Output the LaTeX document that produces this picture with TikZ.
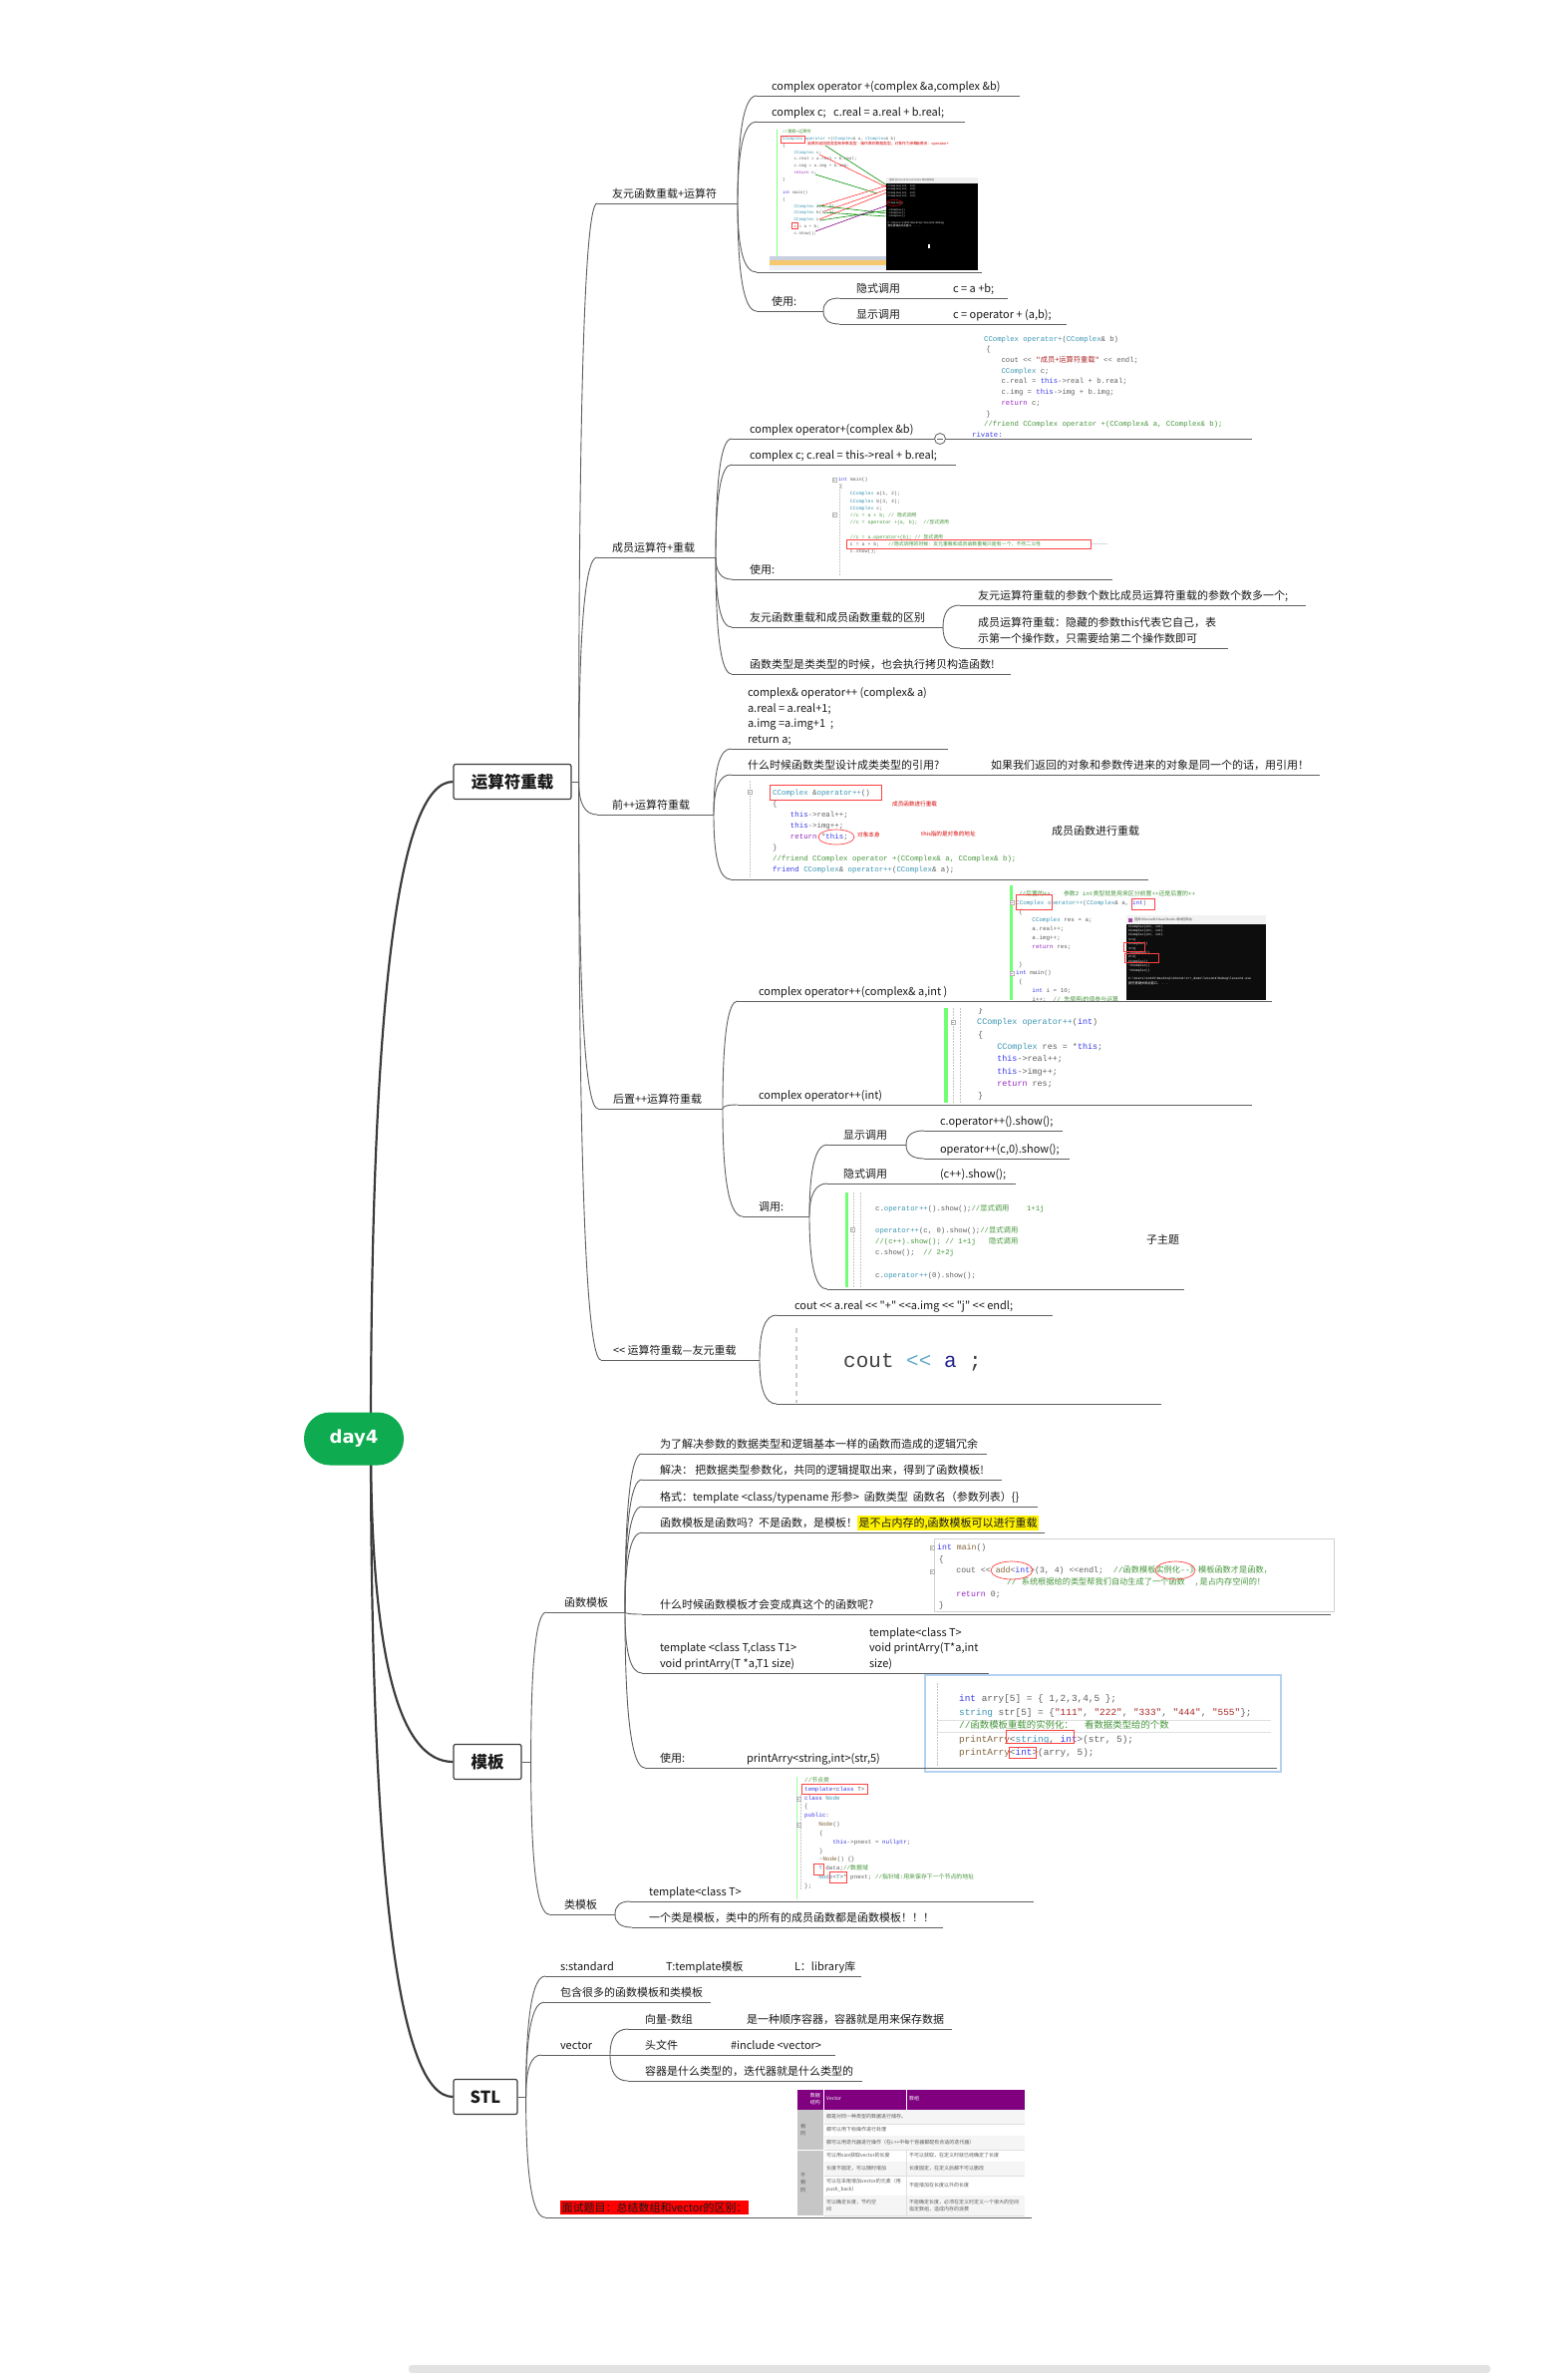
\documentclass[tikz,border=0pt]{standalone}
\usepackage{fontspec}
\newfontfamily\zhfont{Noto Sans CJK SC}
\newfontfamily\codefnt{Liberation Mono}
\newfontfamily\rootfnt{DejaVu Sans}
\usetikzlibrary{calc,backgrounds}

\definecolor{daygreen}{RGB}{14,171,80}
\definecolor{trunkc}{RGB}{60,60,60}
\definecolor{twigc}{RGB}{95,95,95}
\definecolor{textc}{RGB}{25,25,25}
\definecolor{codec}{RGB}{95,95,95}
\definecolor{kwc}{RGB}{60,60,235}
\definecolor{tyc}{RGB}{60,150,180}
\definecolor{cmc}{RGB}{70,150,60}
\definecolor{strc}{RGB}{170,40,40}
\definecolor{retc}{RGB}{150,40,190}
\definecolor{fnc}{RGB}{130,100,60}
\definecolor{vsblue}{RGB}{200,208,224}
\definecolor{vsorange}{RGB}{246,200,110}
\definecolor{vslight}{RGB}{235,238,245}
\definecolor{tblpurple}{RGB}{128,0,128}
\definecolor{framebl}{RGB}{180,210,240}

\newcommand\zh[1]{{\zhfont #1}}
\newcommand\ckw[1]{\textcolor{kwc}{#1}}
\newcommand\cty[1]{\textcolor{tyc}{#1}}
\newcommand\ccm[1]{\textcolor{cmc}{#1}}
\newcommand\cstr[1]{\textcolor{strc}{#1}}
\newcommand\cret[1]{\textcolor{retc}{#1}}
\newcommand\cfn[1]{\textcolor{fnc}{#1}}
\newcommand\cind[1]{\hspace*{#1\dimexpr0.6em\relax}}
\newcommand\hlt[1]{{\setlength\fboxsep{1.5pt}\colorbox{yellow}{#1}}}
\newcommand\redhl[1]{{\setlength\fboxsep{1.5pt}\colorbox{red}{#1}}}
% topic text: [left pad]{underline length}{lines}
\newcommand\tpc[3][15pt]{\hbox to #2{\hskip#1\begin{tabular}[b]{@{}l@{}}#3\end{tabular}\hss}}

\tikzset{
  trunk/.style={draw=trunkc, line width=2.2pt},
  twig/.style={draw=twigc, line width=0.9pt},
  uline/.style={draw=twigc, line width=0.9pt},
  branch/.style={to path={.. controls ($(\tikztostart)!.667!(\tikztostart|-\tikztotarget)$) and ($(\tikztotarget)!.667!(\tikztostart|-\tikztotarget)$) .. (\tikztotarget)}},
  rootnode/.style={fill=daygreen, rounded corners=26pt, minimum width=100pt, minimum height=53pt, text=white, font=\rootfnt\bfseries\fontsize{18}{20}\selectfont},
  mainbox/.style={draw=trunkc, line width=1.2pt, fill=white, rounded corners=2pt, minimum height=35pt, inner sep=0pt, text=textc, font=\zhfont\bfseries\fontsize{16.5}{18}\selectfont},
  topic/.style={anchor=south west, inner sep=0pt, inner ysep=1.2pt, outer sep=0pt, text=textc, font=\zhfont\fontsize{11}{15.5}\selectfont,
    append after command={(\tikzlastnode.south west) edge[uline] (\tikzlastnode.south east)}},
  tlabel/.style={anchor=west, inner sep=0pt, text=textc, font=\zhfont\fontsize{11}{15}\selectfont},
  codeblk/.style 2 args={anchor=north west, inner sep=0pt, align=left, text=codec, font=\codefnt\fontsize{#1}{#2}\selectfont},
  anno/.style={anchor=west, inner sep=0pt, text=red!85!black, font=\zhfont\fontsize{5.6}{6}\selectfont},
  tbltxt/.style={anchor=west, inner sep=0pt, align=left, text=black!65, font=\zhfont\fontsize{5}{7.5}\selectfont},
  redbox/.style={draw=red!75, line width=0.7pt},
  fold/.style={draw=gray!60, fill=white, minimum size=4.5pt, inner sep=0pt, line width=0.3pt, path picture={\draw[gray!70, line width=0.4pt] ([xshift=1pt]path picture bounding box.west) -- ([xshift=-1pt]path picture bounding box.east);}},
  collapse/.style={circle, draw=twigc, fill=white, line width=0.8pt, minimum size=11pt, inner sep=0pt, path picture={\draw[twigc, line width=0.9pt] ([xshift=2.5pt]path picture bounding box.west) -- ([xshift=-2.5pt]path picture bounding box.east);}},
  guide/.style={draw=gray!45, line width=0.4pt, dash pattern=on 1.5pt off 1.5pt},
}

\begin{document}
\begin{tikzpicture}[x=1pt, y=-1pt]
\useasboundingbox (0,0) rectangle (1572,2380);
\begin{pgfonlayer}{background}
\fill[white] (0,0) rectangle (1572,2380);
\end{pgfonlayer}
\fill[gray!22, rounded corners=3pt] (410,2372) rectangle (1495,2380);

% root and the three main topics
\node[rootnode] (day4) at (355,1443) {day4};
\coordinate (hub) at (372,1443);
\node[mainbox, minimum width=118pt] (op) at (514,784) {运算符重载};
\node[mainbox, minimum width=68pt] (tp) at (489,1767) {模板};
\node[mainbox, minimum width=64pt] (stl) at (487,2103) {STL};
\begin{pgfonlayer}{background}
\foreach \nd in {op,tp,stl}
  \draw[trunk] (hub) to[branch] (\nd.west);
\end{pgfonlayer}
\coordinate (opj) at ([xshift=7pt]op.east);
\coordinate (tpj) at ([xshift=9pt]tp.east);
\coordinate (stlj) at ([xshift=8pt]stl.east);
\draw[twig] (op.east) -- (opj);
\draw[twig] (tp.east) -- (tpj);
\draw[twig] (stl.east) -- (stlj);

% ---------- 运算符重载
\node[topic] (f1) at (599,204) {\tpc{141pt}{友元函数重载+运算符}};
\node[topic] (f1a) at (759,96) {\tpc{264pt}{complex operator +(complex \&a,complex \&b)}};
\node[topic] (f1b) at (759,122) {\tpc{209pt}{complex c;\ \ \ c.real = a.real + b.real;}};
\node[topic] (f1c) at (759,273) {\tpc{226pt}{}};
\node[topic] (f1d) at (759,312) {\tpc{67pt}{使用:}};
\node[topic] (f1d1) at (842,299) {\tpc[17pt]{85pt}{隐式调用}};
\node[topic] (f1d1a) at (942,299) {\tpc[14pt]{69pt}{c = a +b;}};
\node[topic] (f1d2) at (842,325) {\tpc[17pt]{85pt}{显示调用}};
\node[topic] (f1d2a) at (942,325) {\tpc[14pt]{128pt}{c = operator + (a,b);}};

\node[topic] (m1) at (599,559) {\tpc{119pt}{成员运算符+重载}};
\node[topic] (m1a) at (734,440) {\tpc[18pt]{522pt}{complex operator+(complex \&b)}};
\node[topic] (m1b) at (734,466) {\tpc[18pt]{225pt}{complex c; c.real = this->real + b.real;}};
\node[topic] (m1c) at (734,581) {\tpc[18pt]{382pt}{使用:}};
\node[topic] (m1d) at (734,629) {\tpc[18pt]{212pt}{友元函数重载和成员函数重载的区别}};
\node[topic] (m1d1) at (963,607) {\tpc[18pt]{347pt}{友元运算符重载的参数个数比成员运算符重载的参数个数多一个;}};
\node[topic] (m1d2) at (963,650) {\tpc[18pt]{269pt}{成员运算符重载：隐藏的参数this代表它自己，表\\示第一个操作数，只需要给第二个操作数即可}};
\node[topic] (m1e) at (734,676) {\tpc[18pt]{280pt}{函数类型是类类型的时候，也会执行拷贝构造函数!}};
\node[collapse] (m1ax) at (943,440) {};

\node[topic] (p1) at (599,817) {\tpc{117pt}{前++运算符重载}};
\node[topic] (p1a) at (733,751) {\tpc[17pt]{218pt}{complex\& operator++ (complex\& a)\\a.real = a.real+1;\\a.img =a.img+1\ \ ;\\return a;}};
\node[topic] (p1b) at (733,777) {\tpc[17pt]{227pt}{什么时候函数类型设计成类类型的引用?}};
\node[topic] (p1b1) at (978,777) {\tpc[16pt]{346pt}{如果我们返回的对象和参数传进来的对象是同一个的话，用引用！}};
\node[topic] (p1c) at (733,882) {\tpc{419pt}{}};
\node[tlabel] (p1ct) at (1055,833) {成员函数进行重载};

\node[topic] (q1) at (600,1112) {\tpc{125pt}{后置++运算符重载}};
\node[topic] (q1a) at (740,1004) {\tpc[21pt]{536pt}{complex operator++(complex\& a,int )}};
\node[topic] (q1b) at (740,1108) {\tpc[21pt]{516pt}{complex operator++(int)}};
\node[topic] (q1c) at (745,1220) {\tpc[16pt]{67pt}{调用:}};
\node[topic] (q1c1) at (830,1148) {\tpc[16pt]{79pt}{显示调用}};
\node[topic] (q1c1a) at (927,1134) {\tpc[16pt]{139pt}{c.operator++().show();}};
\node[topic] (q1c1b) at (927,1162) {\tpc[16pt]{146pt}{operator++(c,0).show();}};
\node[topic] (q1c2) at (830,1187) {\tpc[16pt]{94pt}{隐式调用}};
\node[topic] (q1c2a) at (929,1187) {\tpc[14pt]{90pt}{(c++).show();}};
\node[topic] (q1c3) at (830,1293) {\tpc{358pt}{}};
\node[tlabel] (q1c3t) at (1150,1243) {子主题};

\node[topic] (s1) at (603,1364) {\tpc[12pt]{159pt}{<< 运算符重载—友元重载}};
\node[topic] (s1a) at (779,1319) {\tpc[18pt]{277pt}{cout << a.real << "+" <<a.img << "j" << endl;}};
\node[topic] (s1b) at (779,1408) {\tpc{386pt}{}};

\foreach \nd in {f1,m1,p1,q1,s1} \draw[twig] (opj) to[branch] (\nd.south west);
\foreach \nd in {f1a,f1b,f1c,f1d} \draw[twig] (f1.south east) to[branch] (\nd.south west);
\foreach \nd in {f1d1,f1d2} \draw[twig] (f1d.south east) to[branch] (\nd.south west);
\draw[twig] (f1d1.south east) -- (f1d1a.south west);
\draw[twig] (f1d2.south east) -- (f1d2a.south west);
\foreach \nd in {m1a,m1b,m1c,m1d,m1e} \draw[twig] (m1.south east) to[branch] (\nd.south west);
\foreach \nd in {m1d1,m1d2} \draw[twig] (m1d.south east) to[branch] (\nd.south west);
\foreach \nd in {p1a,p1b,p1c} \draw[twig] (p1.south east) to[branch] (\nd.south west);
\draw[twig] (p1b.south east) -- (p1b1.south west);
\foreach \nd in {q1a,q1b,q1c} \draw[twig] (q1.south east) to[branch] (\nd.south west);
\foreach \nd in {q1c1,q1c2,q1c3} \draw[twig] (q1c.south east) to[branch] (\nd.south west);
\foreach \nd in {q1c1a,q1c1b} \draw[twig] (q1c1.south east) to[branch] (\nd.south west);
\draw[twig] (q1c2.south east) -- (q1c2a.south west);
\foreach \nd in {s1a,s1b} \draw[twig] (s1.south east) to[branch] (\nd.south west);

% ---------- 模板
\node[topic] (t1) at (548,1617) {\tpc[18pt]{79pt}{函数模板}};
\node[topic] (t1a) at (644,1458) {\tpc[18pt]{346pt}{为了解决参数的数据类型和逻辑基本一样的函数而造成的逻辑冗余}};
\node[topic] (t1b) at (644,1484) {\tpc[18pt]{361pt}{解决：\ 把数据类型参数化，共同的逻辑提取出来，得到了函数模板!}};
\node[topic] (t1c) at (644,1511) {\tpc[18pt]{397pt}{格式：template <class/typename 形参>\ \ 函数类型\ \ 函数名（参数列表）\{\}}};
\node[topic] (t1d) at (644,1537) {\tpc[18pt]{404pt}{函数模板是函数吗？不是函数，是模板！\hlt{是不占内存的,函数模板可以进行重载}}};
\node[topic] (t1e) at (644,1619) {\tpc[18pt]{691pt}{什么时候函数模板才会变成真这个的函数呢?}};
\node[topic] (t1f) at (644,1678) {\tpc[18pt]{214pt}{template <class T,class T1>\\void printArry(T *a,T1 size)}};
\node[topic] (t1f1) at (858,1678) {\tpc[14pt]{134pt}{template<class T>\\void printArry(T*a,int\\size)}};
\node[topic] (t1g) at (647,1773) {\tpc{80pt}{使用:}};
\node[topic] (t1g1) at (735,1773) {\tpc[14pt]{175pt}{printArry<string,int>(str,5)}};
\node[topic] (t1g2) at (918,1773) {\tpc{363pt}{}};
\node[topic] (t2) at (551,1920) {\tpc{66pt}{类模板}};
\node[topic] (t2a) at (632,1907) {\tpc[19pt]{405pt}{template<class T>}};
\node[topic] (t2b) at (634,1933) {\tpc[17pt]{312pt}{一个类是模板，类中的所有的成员函数都是函数模板！！！}};

\foreach \nd in {t1,t2} \draw[twig] (tpj) to[branch] (\nd.south west);
\foreach \nd in {t1a,t1b,t1c,t1d,t1e,t1f,t1g} \draw[twig] (t1.south east) to[branch] (\nd.south west);
\draw[twig] (t1f.south east) -- (t1f1.south west);
\draw[twig] (t1g.south east) -- (t1g1.south west);
\draw[twig] (t1g1.south east) -- (t1g2.south west);
\foreach \nd in {t2a,t2b} \draw[twig] (t2.south east) to[branch] (\nd.south west);

% ---------- STL
\node[topic] (u1) at (547,1982) {\tpc{106pt}{s:standard}};
\node[topic] (u1b) at (653,1982) {\tpc{127pt}{T:template模板}};
\node[topic] (u1c) at (782,1982) {\tpc{82pt}{L：library库}};
\node[topic] (u2) at (546,2008) {\tpc[16pt]{167pt}{包含很多的函数模板和类模板}};
\node[topic] (u3) at (543,2061) {\tpc[19pt]{69pt}{vector}};
\node[topic] (u3a) at (630,2035) {\tpc[17pt]{104pt}{向量-数组}};
\node[topic] (u3a1) at (734,2035) {\tpc{221pt}{是一种顺序容器，容器就是用来保存数据}};
\node[topic] (u3b) at (630,2061) {\tpc[17pt]{88pt}{头文件}};
\node[topic] (u3b1) at (718,2061) {\tpc{120pt}{\#include <vector>}};
\node[topic] (u3c) at (630,2087) {\tpc[17pt]{235pt}{容器是什么类型的，迭代器就是什么类型的}};
\node[topic] (u4) at (547,2224) {\tpc{488pt}{\redhl{面试题目：总结数组和vector的区别：}}};

\foreach \nd in {u1,u2,u3,u4} \draw[twig] (stlj) to[branch] (\nd.south west);
\draw[twig] (u1.south east) -- (u1b.south west);
\draw[twig] (u1b.south east) -- (u1c.south west);
\foreach \nd in {u3a,u3b,u3c} \draw[twig] (u3.south east) to[branch] (\nd.south west);
\draw[twig] (u3a.south east) -- (u3a1.south west);
\draw[twig] (u3b.south east) -- (u3b1.south west);

% ---------- screenshot: friend operator+
\begin{scope}
\clip (772,128) rectangle (981,271);
\fill[green!50] (778.5,130) rectangle (780,257);
\node[codeblk={4.2}{6.75}] (cb1) at (785,130.1) {%
\ccm{//\zh{重载}+\zh{运算符}}\\
\cty{CComplex} \cty{operator} +(\cty{CComplex}\& a, \cty{CComplex}\& b)\\
\{\\
\cind{4.5}\cty{CComplex} c;\\
\cind{4.5}c.real = a.real + b.real;\\
\cind{4.5}c.img = a.img + b.img;\\
\cind{4.5}\cret{return} c;\\
\}\\
\mbox{}\\
\ckw{int} main()\\
\{\\
\cind{4.5}\cty{CComplex} a(1, 2);\\
\cind{4.5}\cty{CComplex} b(3, 4);\\
\cind{4.5}\cty{CComplex} c;\\
\cind{4.5}c = a + b;\\
\cind{4.5}c.show();};
\draw[redbox, line width=0.5pt] (783,136) rectangle (807,143);
\draw[redbox, line width=0.5pt] (794.5,223) rectangle (800,229.5);
\node[anno, font=\zhfont\fontsize{3.8}{4}\selectfont] (an1) at (810,144.5) {函数的返回值类型和参数类型：操作数的数据类型，对象作为参数};
\node[anno, font=\zhfont\fontsize{3.8}{4}\selectfont] (an2) at (919,144.5) {函数名：operator+};
\draw[green!55!black, line width=0.6pt] (828,146) -- (890,186);
\draw[red!80, line width=0.6pt] (822,155) -- (890,188);
\draw[green!55!black, line width=0.6pt] (818,175) -- (880,194);
\draw[red!80, line width=0.6pt] (825,206) -- (890,186) (827,212) -- (890,190) (822,220) -- (890,193);
\draw[green!55!black, line width=0.6pt] (820,206) -- (890,214) (826,213) -- (890,217) (823,221) -- (890,211);
\draw[violet, line width=0.6pt] (818,232) -- (890,206);
\fill[vsblue] (772,257) rectangle (889,261);
\fill[vsorange] (772,261) rectangle (889,266);
\fill[vslight] (772,266) rectangle (889,271);
\fill[gray!12] (889,178) rectangle (981,184);
\fill[black] (889,184) rectangle (981,271);
\node[anchor=west, inner sep=0pt, text=black!70, font=\zhfont\fontsize{2.5}{3}\selectfont] (cb1t) at (892,181) {选择 Microsoft Visual Studio 调试控制台};
\node[codeblk={2.6}{3.35}, text=white] (cb1c) at (890.5,185.5) {CComplex(int, int)\\CComplex(int, int)\\CComplex(int, int)\\CComplex(int, int)\\\mbox{}\\CComplex()\\\mbox{}\\\textasciitilde CComplex()\\\textasciitilde CComplex()\\\textasciitilde CComplex()\\\mbox{}\\C:\textbackslash Users\textbackslash 11223\textbackslash Desktop\textbackslash lesson4\textbackslash Debug\\\zh{按任意键关闭此窗口}. . .};
\draw[red, line width=0.4pt] (897,203.4) ellipse [x radius=8pt, y radius=3pt];
\fill[white] (931,245) rectangle (933,249);
\end{scope}

% ---------- code: member operator+
\begin{scope}
\clip (974,334) rectangle (1245,439);
\node[codeblk={7.25}{10.7}] (cb2) at (987,336.7) {%
\cty{CComplex} \cty{operator+}(\cty{CComplex}\& b)\\
\hspace*{0.3em}\{\\
\cind{4}cout << \cstr{"\zh{成员+运算符重载}"} << endl;\\
\cind{4}\cty{CComplex} c;\\
\cind{4}c.real = \ckw{this}->real + b.real;\\
\cind{4}c.img = \ckw{this}->img + b.img;\\
\cind{4}\cret{return} c;\\
\hspace*{0.3em}\}\\
\ccm{//friend CComplex operator +(CComplex\& a, CComplex\& b);}\\
\hspace*{-1.65em}\ckw{rivate:}};
\end{scope}

% ---------- code: member main
\draw[guide] (842,485) -- (842,578);
\node[codeblk={4.9}{7.2}] (cb3) at (841,478.8) {%
\ckw{int} main()\\
\hspace*{0.3em}\{\\
\cind{4}\cty{CComplex} a(1, 2);\\
\cind{4}\cty{CComplex} b(3, 4);\\
\cind{4}\cty{CComplex} c;\\
\cind{4}\ccm{//c = a + b; // \zh{隐式调用}}\\
\cind{4}\ccm{//c = operator +(a, b);\cind{2}//\zh{显式调用}}\\
\mbox{}\\
\cind{4}\ccm{//c = a.operator+(b); // \zh{显式调用}}\\
\cind{4}c = a + b;\cind{3}\ccm{//\zh{隐式调用的时候：友元重载和成员函数重载只能有一个，不然二义性}}\\
\cind{4}c.show();};
\draw[gray!30, line width=0.5pt] (1094,545.5) -- (1111,545.5);
\draw[redbox] (849,541) rectangle (1094,550);

% ---------- code: prefix ++
\draw[guide] (752,783) -- (752,880);
\node[codeblk={7.4}{11}] (cb4) at (775,791.7) {%
\cty{CComplex} \&\cty{operator++}()\\
\{\\
\cind{4}\ckw{this}->real++;\\
\cind{4}\ckw{this}->img++;\\
\cind{4}\cret{return} *\ckw{this};\\
\}\\
\ccm{//friend CComplex operator +(CComplex\& a, CComplex\& b);}\\
\ckw{friend} \cty{CComplex}\& \cty{operator++}(\cty{CComplex}\& a);};
\draw[redbox] (772,787) rectangle (884,802);
\draw[redbox] (839,839.5) ellipse [x radius=18pt, y radius=7.5pt];
\node[anno] (an3) at (895,806) {成员函数进行重载};
\node[anno] (an4) at (860,837) {对象本身};
\node[anno] (an5) at (924,836) {this指的是对象的地址};

% ---------- screenshot: postfix ++ with console
\begin{scope}
\clip (1013,888) rectangle (1270,1003);
\fill[green!55] (1013,888) rectangle (1016,1003);
\node[codeblk={5.9}{8.83}] (cb5) at (1019,893.3) {%
\hspace*{0.5em}\ccm{//\zh{后置的}++\zh{：}\cind{2}\zh{参数}2 int\zh{类型就是用来区分前置}++\zh{还是后置的}++}\\
\cty{CComplex} \cty{operator++}(\cty{CComplex}\& a, \ckw{int})\\
\hspace*{0.5em}\{\\
\cind{4.6}\cty{CComplex} res = a;\\
\cind{4.6}a.real++;\\
\cind{4.6}a.img++;\\
\cind{4.6}\cret{return} res;\\
\mbox{}\\
\hspace*{0.5em}\}\\
\ckw{int} main()\\
\hspace*{0.5em}\{\\
\cind{4.6}\ckw{int} i = 10;\\
\cind{4.6}i++;\cind{2}\ccm{// \zh{先使用i的值参与运算}}};
\draw[redbox] (1019,897) rectangle (1055,912);
\draw[redbox] (1135,901) rectangle (1158,912);
\fill[gray!10] (1130,918) rectangle (1270,927);
\fill[violet!70] (1132,920.5) rectangle (1136,924.5);
\node[anchor=west, inner sep=0pt, text=black!75, font=\zhfont\fontsize{3.2}{4}\selectfont] (cb5t) at (1138,922.5) {选择 Microsoft Visual Studio 调试控制台};
\fill[black!95] (1130,927) rectangle (1270,1003);
\node[codeblk={3.2}{4.4}, text=white] (cb5c) at (1132,927.6) {CComplex(int, int)\\CComplex(int, int)\\CComplex(int, int)\\1+1j\\CComplex()\\1+1j\\\textasciitilde CComplex()\\2+2j\\CComplex()\\\textasciitilde CComplex()\\\textasciitilde CComplex()\\\mbox{}\\C:\textbackslash Users\textbackslash 11223\textbackslash Desktop\textbackslash 221111\textbackslash c++\_demo\textbackslash lesson4\textbackslash Debug\textbackslash lesson4.exe\\\zh{按任意键关闭此窗口}. . .};
\draw[redbox, line width=0.6pt] (1127,945) rectangle (1148,954);
\draw[redbox, line width=0.6pt] (1128,956) rectangle (1162,965);
\end{scope}

% ---------- code: operator++(int)
\begin{scope}
\clip (946,1011) rectangle (1110,1106);
\fill[green!55] (947,1011) rectangle (951,1106);
\draw[guide] (956,1011) -- (956,1106);
\draw[guide] (963,1011) -- (963,1106);
\node[codeblk={8.4}{12.3}] (cb6) at (980,1009.2) {%
\hspace*{0.1em}\}\\
\cty{CComplex} \cty{operator++}(\ckw{int})\\
\hspace*{0.1em}\{\\
\cind{4}\cty{CComplex} res = *\ckw{this};\\
\cind{4}\ckw{this}->real++;\\
\cind{4}\ckw{this}->img++;\\
\cind{4}\cret{return} res;\\
\hspace*{0.1em}\}};
\end{scope}

% ---------- code: calls
\fill[green!55] (848,1196) rectangle (851,1291);
\draw[guide] (856,1196) -- (856,1291);
\draw[guide] (863,1196) -- (863,1291);
\node[codeblk={7.3}{11.2}] (cb7) at (878,1207.7) {%
c.\cty{operator++}().show();\ccm{//\zh{显式调用}\cind{4}1+1j}\\
\mbox{}\\
\cty{operator++}(c, 0).show();\ccm{//\zh{显式调用}}\\
\ccm{//(c++).show(); // 1+1j\cind{3}\zh{隐式调用}}\\
c.show();\cind{2}\ccm{// 2+2j}\\
\mbox{}\\
c.\cty{operator++}(0).show();};

% ---------- code: cout << a
\draw[gray!40, line width=1.5pt, dash pattern=on 5pt off 4pt] (799,1332) -- (799,1407);
\node[anchor=west, inner sep=0pt, font=\codefnt\fontsize{21}{24}\selectfont] (cb8) at (846,1366) {\textcolor{black!75}{cout} \textcolor{tyc!80}{<<} \textcolor{kwc!60!black}{a} \textcolor{black!75}{;}};

% ---------- code: template instantiation
\draw[gray!35, line width=0.8pt] (937,1543) rectangle (1338,1616);
\node[codeblk={8.2}{11.7}] (cb9) at (940,1548.3) {%
\ckw{int} \cfn{main}()\\
\hspace*{0.2em}\{\\
\cind{3.9}cout << \cfn{add}<\ckw{int}>(3, 4) <<endl;\cind{2}\ccm{//\zh{函数模板实例化}-{}-\zh{》模板函数才是函数，}}\\
\cind{14.2}\ccm{// \zh{系统根据给的类型帮我们自动生成了一个函数}\cind{2},\zh{是占内存空间的！}}\\
\cind{3.9}\cret{return} 0;\\
\hspace*{0.2em}\}};
\draw[redbox] (1015,1575) ellipse [x radius=21pt, y radius=9pt];
\draw[redbox] (1179,1575) ellipse [x radius=20pt, y radius=9pt];

% ---------- code: printArry use
\draw[framebl, line width=1.6pt, fill=white] (928,1680) rectangle (1285,1777);
\draw[twig] (t1g2.south west) -- (t1g2.south east);
\draw[gray!25, line width=0.8pt] (940,1725) -- (1275,1725) (940,1737) -- (1275,1737);
\draw[guide] (940,1688) -- (940,1772);
\node[codeblk={9.4}{13.5}] (cb10) at (962,1699.8) {%
\ckw{int} arry[5] = \{ 1,2,3,4,5 \};\\
\cty{string} str[5] = \{\cstr{"111"}, \cstr{"222"}, \cstr{"333"}, \cstr{"444"}, \cstr{"555"}\};\\
\ccm{//\zh{函数模板重载的实例化：}\cind{2}\zh{看数据类型给的个数}}\\
\cfn{printArry}<\cty{string}, \ckw{int}>(str, 5);\\
\cfn{printArry}<\ckw{int}>(arry, 5);};
\draw[redbox] (1009,1735) rectangle (1077,1748);
\draw[redbox] (1012,1752) rectangle (1039,1763);

% ---------- code: class template
\draw[green!40, line width=0.6pt] (799,1782) -- (799,1905);
\draw[guide] (803,1800) -- (803,1895);
\node[codeblk={5.9}{8.83}] (cb11) at (807,1782.3) {%
\ccm{//\zh{节点类}}\\
\ckw{template}<\ckw{class} T>\\
\ckw{class} \cty{Node}\\
\{\\
\ckw{public}:\\
\cind{4}\cfn{Node}()\\
\cind{4.2}\{\\
\cind{8}\ckw{this}->pnext = \ckw{nullptr};\\
\cind{4.2}\}\\
\cind{4.2}\textasciitilde\cfn{Node}() \{\}\\
\cind{4}\cty{T} data;\ccm{//\zh{数据域}}\\
\cind{4}\cty{Node}<\cty{T}>* pnext; \ccm{//\zh{指针域}:\zh{用来保存下一个节点的地址}}\\
\};};
\draw[redbox, line width=0.6pt] (804,1789) rectangle (870,1799);
\draw[redbox, line width=0.6pt] (816,1869) rectangle (826,1880);
\draw[redbox, line width=0.6pt] (832,1877) rectangle (849,1888);

% ---------- table: vector vs array
\fill[tblpurple] (800,2096) rectangle (1028,2116);
\fill[gray!45] (800,2116) rectangle (826,2222);
\foreach \ya/\yb [count=\i] in {2116/2130,2130/2142,2142/2156,2156/2168,2168/2182,2182/2202,2202/2222} {
  \ifodd\i \fill[gray!8] (826,\ya) rectangle (1028,\yb); \fi
  \draw[gray!25, line width=0.4pt] (826,\yb) -- (1028,\yb);
}
\draw[white, line width=0.8pt] (826,2096) -- (826,2222) (909,2096) -- (909,2116) (800,2156) -- (826,2156);
\draw[gray!25, line width=0.4pt] (909,2156) -- (909,2222);
\node[tbltxt, text=white, align=right, anchor=east] (tb0) at (823,2105) {数据\\结构};
\node[tbltxt, text=white] (tb1) at (829,2105) {Vector};
\node[tbltxt, text=white] (tb2) at (912,2105) {数组};
\node[tbltxt] (tb3) at (803,2136) {相\\同};
\node[tbltxt] (tb4) at (803,2189) {不\\相\\同};
\node[tbltxt] (tb5) at (829,2123) {都是对同一种类型的数据进行储存。};
\node[tbltxt] (tb6) at (829,2136) {都可以用下标操作进行处理};
\node[tbltxt] (tb7) at (829,2149) {都可以用迭代器进行操作（在c++中每个容器都配有合适的迭代器）};
\node[tbltxt] (tb8) at (829,2162) {可以用size获取vector的长度};
\node[tbltxt] (tb9) at (912,2162) {不可以获取，在定义时就已经确定了长度};
\node[tbltxt] (tb10) at (829,2175) {长度不固定，可以随时增加};
\node[tbltxt] (tb11) at (912,2175) {长度固定，在定义后都不可以删改};
\node[tbltxt] (tb12) at (829,2192) {可以在末尾增加vector的元素（用\\push\_back）};
\node[tbltxt] (tb13) at (912,2192) {不能增加在长度以外的长度};
\node[tbltxt] (tb14) at (829,2212) {可以确定长度，节约空\\间};
\node[tbltxt] (tb15) at (912,2212) {不能确定长度，必须在定义时定义一个很大的空间\\指定数组，造成内存的浪费};

% fold markers of the code screenshots
\foreach \x/\y [count=\i] in {837/481,837/516,752/794,1015/905,1015/976,956/1025,855/1233,935/1552,935/1576,801/1804,801/1830}
  \node[fold] (fold\i) at (\x,\y) {};
\end{tikzpicture}
\end{document}
